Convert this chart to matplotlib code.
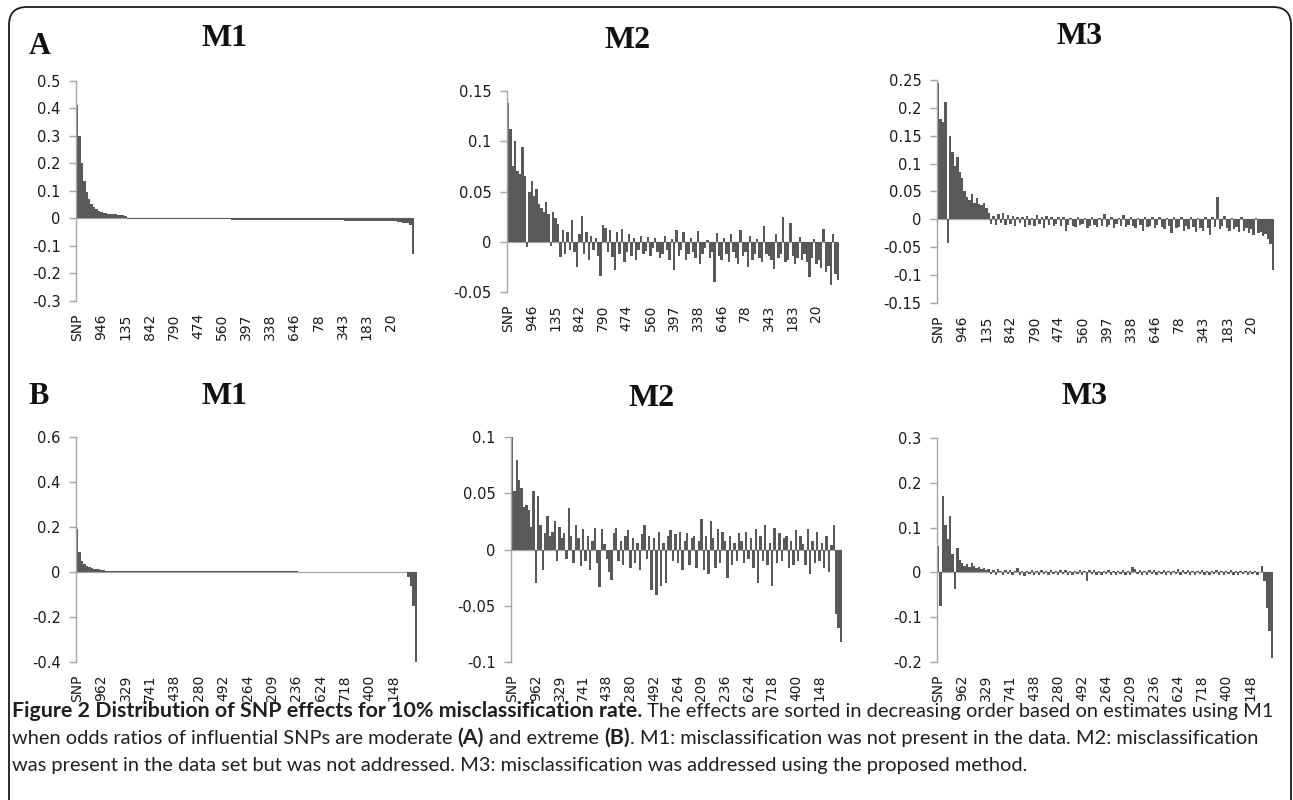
import numpy as np
import matplotlib
matplotlib.use("Agg")
import matplotlib.pyplot as plt
from matplotlib.patches import FancyBboxPatch

# ---------------- data ----------------
labels_A = ["SNP", "946", "135", "842", "790", "474", "560", "397", "338", "646", "78", "343", "183", "20"]
labels_B = ["SNP", "962", "329", "741", "438", "280", "492", "264", "209", "236", "624", "718", "400", "148"]

A_M1 = [0.410, 0.300, 0.200, 0.135, 0.095, 0.068, 0.052, 0.040, 0.032, 0.027,
        0.023, 0.020, 0.018, 0.017, 0.016, 0.015, 0.014, 0.013, 0.012, 0.010,
        0.008, -0.002, -0.002, -0.002, -0.002, -0.002, -0.002, -0.002, -0.002, -0.002,
        -0.002, -0.003, -0.003, -0.003, -0.003, -0.003, -0.003, -0.003, -0.003, -0.003,
        -0.003, -0.003, -0.003, -0.003, -0.003, -0.003, -0.004, -0.004, -0.004, -0.004,
        -0.004, -0.004, -0.004, -0.004, -0.004, -0.004, -0.004, -0.004, -0.004, -0.004,
        -0.004, -0.004, -0.004, -0.004, -0.005, -0.005, -0.005, -0.005, -0.005, -0.005,
        -0.005, -0.005, -0.005, -0.006, -0.006, -0.006, -0.006, -0.006, -0.006, -0.006,
        -0.006, -0.006, -0.006, -0.006, -0.006, -0.007, -0.007, -0.007, -0.007, -0.007,
        -0.007, -0.007, -0.007, -0.007, -0.007, -0.007, -0.007, -0.007, -0.007, -0.007,
        -0.007, -0.008, -0.008, -0.008, -0.008, -0.008, -0.008, -0.008, -0.008, -0.008,
        -0.008, -0.010, -0.010, -0.010, -0.010, -0.010, -0.010, -0.010, -0.010, -0.011,
        -0.011, -0.011, -0.011, -0.011, -0.011, -0.011, -0.012, -0.012, -0.012, -0.012,
        -0.012, -0.012, -0.012, -0.014, -0.015, -0.016, -0.017, -0.019, -0.024, -0.130]

A_M2 = [0.138, 0.112, 0.075, 0.100, 0.070, 0.067, 0.094, 0.065, -0.005, 0.050,
        0.060, 0.046, 0.052, 0.038, 0.034, 0.030, 0.040, 0.028, -0.004, 0.030,
        0.024, 0.018, -0.015, 0.012, -0.012, 0.010, -0.008, 0.022, -0.010, -0.025,
        0.008, 0.026, -0.012, 0.010, -0.018, 0.006, -0.008, 0.004, -0.014, -0.034,
        0.017, 0.014, -0.010, 0.012, -0.015, -0.028, 0.010, -0.012, 0.013, -0.020,
        -0.010, 0.008, -0.014, 0.004, -0.018, -0.008, 0.006, -0.012, -0.009, 0.005,
        -0.014, -0.006, 0.004, -0.010, -0.016, -0.012, 0.006, -0.008, -0.018, 0.003,
        -0.028, 0.012, -0.014, -0.008, 0.010, -0.018, -0.012, 0.004, -0.010, -0.016,
        0.011, -0.022, -0.012, -0.006, 0.002, -0.016, -0.010, -0.040, 0.009, -0.014,
        -0.018, 0.004, -0.012, -0.020, 0.008, -0.010, -0.016, -0.022, 0.012, -0.014,
        -0.010, -0.025, 0.006, -0.018, -0.012, 0.003, -0.016, -0.020, 0.016, -0.012,
        -0.014, -0.018, -0.027, 0.008, -0.016, -0.012, 0.025, -0.020, -0.018, 0.019,
        -0.014, -0.022, -0.016, 0.005, -0.018, -0.012, -0.020, -0.035, -0.016, 0.003,
        -0.022, -0.018, -0.026, 0.013, -0.030, -0.024, -0.043, 0.008, -0.032, -0.038]

A_M3 = [0.245, 0.180, 0.175, 0.210, -0.043, 0.150, 0.120, 0.095, 0.112, 0.085,
        0.075, 0.050, 0.040, 0.035, 0.045, 0.030, 0.038, 0.028, 0.025, 0.030,
        0.020, 0.012, -0.008, 0.006, -0.010, 0.010, -0.006, 0.012, -0.010, 0.007,
        -0.008, 0.006, -0.012, 0.005, -0.006, 0.004, -0.014, 0.006, -0.010, 0.003,
        -0.012, 0.008, -0.008, 0.004, -0.016, 0.006, -0.010, 0.004, -0.012, -0.008,
        0.005, -0.012, 0.004, -0.020, -0.010, 0.003, -0.012, -0.014, 0.004, -0.010,
        -0.008, 0.003, -0.016, -0.012, 0.004, -0.010, -0.014, 0.002, -0.012, 0.010,
        -0.014, -0.010, 0.004, -0.016, -0.008, 0.003, -0.012, 0.008, -0.014, -0.010,
        0.004, -0.012, -0.016, 0.003, -0.010, -0.020, 0.004, -0.014, -0.012, 0.005,
        -0.016, -0.010, 0.004, -0.014, -0.018, 0.003, -0.012, -0.024, 0.004, -0.016,
        -0.014, 0.005, -0.020, -0.012, -0.018, 0.004, -0.014, -0.022, 0.003, -0.016,
        -0.020, 0.004, -0.016, -0.028, 0.005, -0.014, 0.040, -0.018, -0.012, 0.006,
        -0.016, -0.020, 0.003, -0.018, -0.014, -0.022, 0.004, -0.020, -0.016, -0.024,
        -0.018, -0.028, 0.002, -0.024, -0.022, -0.030, -0.026, -0.035, -0.045, -0.090]

B_M1 = [0.190, 0.090, 0.050, 0.035, 0.028, 0.022, 0.018, 0.015, 0.013, 0.012,
        0.011, 0.008, 0.006, 0.006, 0.006, 0.005, 0.005, 0.005, 0.005, 0.005,
        0.005, 0.005, 0.005, 0.005, 0.005, 0.004, 0.004, 0.004, 0.004, 0.004,
        0.004, 0.004, 0.004, 0.004, 0.004, 0.004, 0.004, 0.004, 0.004, 0.004,
        0.004, 0.004, 0.004, 0.004, 0.004, 0.004, 0.004, 0.004, 0.003, 0.003,
        0.003, 0.003, 0.003, 0.003, 0.003, 0.003, 0.003, 0.003, 0.003, 0.003,
        0.003, 0.003, 0.003, 0.003, 0.003, 0.003, 0.003, 0.003, 0.003, 0.003,
        0.003, 0.003, 0.003, 0.003, 0.003, 0.003, 0.003, 0.003, 0.003, 0.003,
        0.003, 0.003, 0.003, 0.003, 0.003, 0.003, 0.003, 0.003, 0.003, 0.003,
        0.003, 0.002, 0.001, 0.001, 0.001, 0.001, 0.001, 0.001, 0.001, 0.001,
        0.001, 0.001, 0.001, 0.001, 0.001, 0.001, 0.001, 0.001, 0.001, 0.001,
        0.001, 0.001, 0.001, 0.001, 0.001, 0.0005, 0.0005, 0.0005, 0.0005, 0.0005,
        0.0005, 0.0005, 0.0005, 0.0005, 0.0005, 0.0003, 0.0003, 0.0003, 0.0003, 0.0003,
        0.0002, 0.0001, -0.0005, -0.001, -0.001, -0.002, -0.020, -0.060, -0.150, -0.400]

B_M2 = [0.100, 0.052, 0.080, 0.062, 0.055, 0.038, 0.040, 0.035, 0.020, 0.052,
        -0.030, 0.048, 0.022, -0.018, 0.015, 0.030, 0.012, 0.016, 0.025, -0.010,
        0.020, 0.010, 0.015, -0.008, 0.037, 0.012, -0.012, 0.022, 0.010, -0.015,
        0.018, -0.010, 0.012, -0.018, 0.008, 0.019, -0.012, -0.033, 0.018, 0.005,
        -0.008, -0.020, -0.027, 0.015, 0.019, -0.010, 0.008, -0.014, 0.012, 0.017,
        -0.016, 0.010, -0.012, 0.006, -0.018, 0.014, 0.022, -0.008, 0.012, -0.036,
        0.010, -0.040, 0.016, -0.032, 0.006, -0.030, 0.012, 0.017, -0.010, 0.014,
        -0.012, 0.016, -0.018, 0.008, 0.015, -0.014, 0.010, 0.012, -0.016, 0.008,
        0.027, -0.018, 0.012, -0.022, 0.025, 0.010, -0.016, 0.018, -0.012, 0.016,
        0.008, -0.025, 0.012, -0.014, 0.006, -0.010, 0.015, 0.008, -0.012, 0.016,
        -0.008, 0.010, -0.016, 0.018, -0.030, 0.012, -0.010, 0.022, -0.014, 0.006,
        -0.032, 0.019, -0.012, 0.015, -0.010, 0.010, 0.012, -0.016, 0.008, -0.014,
        0.017, -0.010, 0.012, 0.005, -0.014, 0.018, -0.022, 0.008, -0.012, 0.016,
        -0.010, 0.006, -0.016, 0.012, -0.020, 0.004, 0.022, -0.057, -0.070, -0.082]

B_M3 = [0.060, -0.075, 0.170, 0.105, 0.075, 0.125, 0.040, -0.038, 0.055, 0.028,
        0.020, 0.015, 0.018, 0.012, 0.020, 0.015, 0.010, 0.012, 0.008, 0.010,
        0.006, 0.008, -0.004, 0.005, -0.006, 0.008, 0.004, -0.005, 0.006, -0.004,
        0.005, -0.006, 0.004, 0.010, -0.005, 0.004, -0.008, 0.003, -0.004, 0.005,
        -0.005, 0.004, -0.006, 0.006, -0.004, 0.003, -0.005, 0.006, -0.004, 0.004,
        -0.006, 0.005, -0.004, 0.006, -0.005, 0.003, -0.006, 0.004, -0.004, 0.005,
        -0.005, 0.004, -0.020, 0.005, -0.004, 0.006, -0.005, 0.003, -0.006, 0.004,
        -0.004, 0.005, -0.006, 0.004, -0.005, 0.003, -0.004, 0.006, -0.005, 0.004,
        -0.006, 0.012, 0.008, -0.004, 0.006, -0.005, 0.004, -0.006, 0.005, -0.004,
        0.006, -0.005, 0.004, -0.004, 0.005, -0.006, 0.003, -0.005, 0.004, -0.004,
        0.008, -0.005, 0.006, -0.004, 0.005, -0.006, 0.004, -0.005, 0.003, -0.004,
        0.005, -0.006, 0.004, -0.005, 0.003, -0.004, 0.005, -0.006, 0.004, -0.005,
        0.004, -0.004, 0.005, -0.006, 0.003, -0.005, 0.004, -0.004, 0.003, -0.005,
        0.004, -0.004, 0.003, -0.006, 0.002, 0.015, -0.020, -0.080, -0.130, -0.190]

panels = [
    (A_M1, labels_A, "M1", (-0.3, 0.5), [-0.3, -0.2, -0.1, 0, 0.1, 0.2, 0.3, 0.4, 0.5], (76, 414, 80.7, 300.7), (225, 39)),
    (A_M2, labels_A, "M2", (-0.05, 0.15), [-0.05, 0, 0.05, 0.1, 0.15], (507, 839, 91, 292), (628, 41)),
    (A_M3, labels_A, "M3", (-0.15, 0.25), [-0.15, -0.1, -0.05, 0, 0.05, 0.1, 0.15, 0.2, 0.25], (937, 1274, 80, 303), (1080, 37)),
    (B_M1, labels_B, "M1", (-0.4, 0.6), [-0.4, -0.2, 0, 0.2, 0.4, 0.6], (76, 417, 437, 662), (225, 396)),
    (B_M2, labels_B, "M2", (-0.1, 0.1), [-0.1, -0.05, 0, 0.05, 0.1], (511, 842, 437, 662), (652, 398)),
    (B_M3, labels_B, "M3", (-0.2, 0.3), [-0.2, -0.1, 0, 0.1, 0.2, 0.3], (937, 1273, 438, 662), (1085, 396)),
]

W, H = 1293, 800
fig = plt.figure(figsize=(W / 100, H / 100), dpi=100)
fig.patch.set_facecolor("white")

bg = fig.add_axes([0, 0, 1, 1])
bg.set_xlim(0, W)
bg.set_ylim(H, 0)
bg.axis("off")
bg.add_patch(FancyBboxPatch((9, 7), 1282, 820, boxstyle="round,pad=0,rounding_size=18",
                            fill=False, edgecolor="#1a1a1a", linewidth=1.3, zorder=0))

axis_grey = "#a6a6a6"
bar_col = "#595959"


def fmt(v):
    if v == 0:
        return "0"
    return ("%.2f" % v).rstrip("0").rstrip(".")


for vals, labs, title, ylim, yticks, box, tpos in panels:
    x0, x1, yt, yb = box
    ax = fig.add_axes([x0 / W, 1 - yb / H, (x1 - x0) / W, (yb - yt) / H])
    n = len(vals)
    xs = np.arange(n)
    ax.bar(xs, vals, width=1.0, color=bar_col, linewidth=0, zorder=2)
    ax.axhline(0, color=axis_grey, linewidth=0.9, zorder=1)
    ax.set_xlim(-0.5, n - 0.5)
    ax.set_ylim(*ylim)
    ax.set_yticks(yticks)
    ax.set_yticklabels([fmt(v) for v in yticks])
    ax.set_xticks(np.arange(0, 10 * len(labs), 10))
    ax.set_xticklabels(labs, rotation=90)
    for s in ["top", "right", "bottom"]:
        ax.spines[s].set_visible(False)
    ax.spines["left"].set_color(axis_grey)
    ax.spines["left"].set_linewidth(1.0)
    ax.tick_params(axis="y", direction="out", length=5, width=1.0, color=axis_grey,
                   labelsize=10.5, pad=6, labelcolor="#1a1a1a")
    ax.tick_params(axis="x", length=0, labelsize=10, pad=9, labelcolor="#1a1a1a")
    for t in ax.get_xticklabels():
        t.set_verticalalignment("top")
    ax.patch.set_alpha(0)
    bg.text(tpos[0], tpos[1], title, ha="center", va="center",
            family="Liberation Serif", fontweight="bold", fontsize=23, color="#111111")

bg.text(40, 47, "A", ha="center", va="center", family="Liberation Serif",
        fontweight="bold", fontsize=22, color="#111111")
bg.text(39, 397, "B", ha="center", va="center", family="Liberation Serif",
        fontweight="bold", fontsize=22, color="#111111")

# ---------------- caption ----------------
cap_font = "Lato"
line1 = [("Figure 2 Distribution of SNP effects for 10% misclassification rate.", "bold"),
         (" The effects are sorted in decreasing order based on estimates using M1", "normal")]
line2 = [("when odds ratios of influential SNPs are moderate ", "normal"), ("(A)", "bold"),
         (" and extreme ", "normal"), ("(B)", "bold"),
         (". M1: misclassification was not present in the data. M2: misclassification", "normal")]
line3 = [("was present in the data set but was not addressed. M3: misclassification was addressed using the proposed method.", "normal")]

renderer = fig.canvas.get_renderer()


def run_width(txt, wt, size):
    t = bg.text(0, 0, txt, family=cap_font, fontweight=wt, fontsize=size)
    w = t.get_window_extent(renderer=renderer).width
    t.remove()
    return w


def widths_at_unit(runs):
    b = sum(run_width(t, w, 10) for t, w in runs if w == "bold") / 10
    r = sum(run_width(t, w, 10) for t, w in runs if w == "normal") / 10
    return b, r


b1, r1 = widths_at_unit(line1)
b2, r2 = widths_at_unit(line2)
# solve b1*sb + r1*sr = 1265 ; b2*sb + r2*sr = 1250
sb, sr = np.linalg.solve(np.array([[b1, r1], [b2, r2]]), np.array([1265.0, 1250.0]))
sizes = {"bold": sb, "normal": sr}


def draw_runs(runs, x, y):
    cur = x
    for txt, wt in runs:
        t = bg.text(cur, y, txt, ha="left", va="baseline", family=cap_font,
                    fontweight=wt, fontsize=sizes[wt], color="#231f20")
        cur += t.get_window_extent(renderer=renderer).width


draw_runs(line1, 12, 717)
draw_runs(line2, 12, 744)
draw_runs(line3, 12, 771)

fig.savefig("out.png", dpi=100, facecolor="white")
